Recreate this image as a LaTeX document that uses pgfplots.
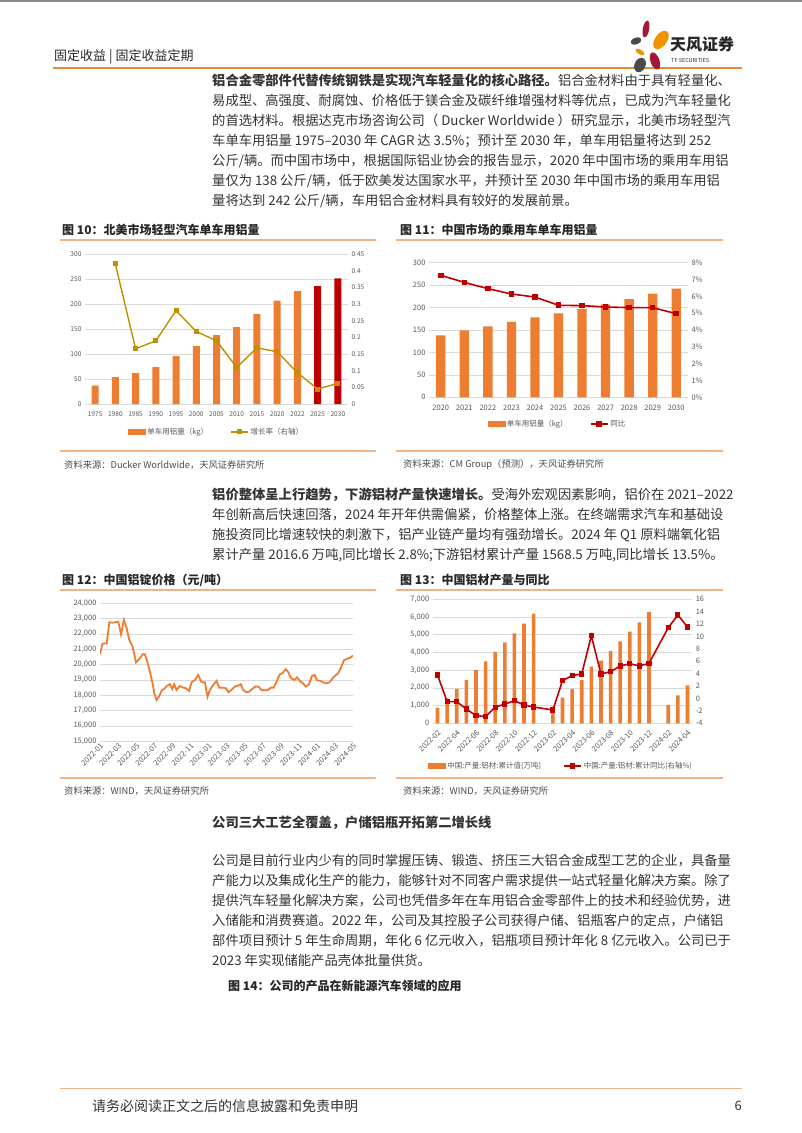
\documentclass[border=0pt]{standalone}
\usepackage{fontspec}
\setmainfont{Noto Sans CJK SC}
\usepackage{pgfplots}
\pgfplotsset{compat=1.18}
\definecolor{bar}{HTML}{ED7D31}
\definecolor{dred}{HTML}{C00000}
\definecolor{gold}{HTML}{BF9000}
\definecolor{gridc}{HTML}{D9D9D9}
\definecolor{tickc}{HTML}{595959}
\definecolor{txt}{HTML}{333333}
\definecolor{rulec}{HTML}{F4B183}
\definecolor{hrule}{HTML}{EA8A35}
\definecolor{tfred}{HTML}{A5173A}
\definecolor{tforange}{HTML}{F39200}
\definecolor{tfgrey}{HTML}{4A4A4A}
\XeTeXlinebreaklocale "zh"
\XeTeXlinebreakskip=0pt plus 2pt
\newcommand\bodyf{\fontsize{13.3}{16}\selectfont}
\newcommand\tickf{\fontsize{7.5}{9}\selectfont}
\newcommand\tickff{\fontsize{6.6}{8}\selectfont}
\pgfplotsset{
  every axis/.append style={
    /pgf/number format/assume math mode=true,
    scale only axis,
    scaled y ticks=false,
    ticklabel style={font=\tickf, text=tickc},
    tick style={draw=none},
    axis line style={-},
  },
  lg/.style={legend style={at={#1}, anchor=center, legend columns=2, draw=none, fill=none,
     font=\tickf, text=tickc, /tikz/every even column/.append style={column sep=20pt}}},
}
\tikzset{
  J/.style={anchor=base west, inner sep=0pt, text width=533pt, align=justify, font=\bodyf, text=txt},
  JL/.style={anchor=base west, inner sep=0pt, font=\bodyf, text=txt},
  T/.style={anchor=west, inner sep=0pt, font=\fontsize{12}{14}\selectfont\bfseries, text=black!85},
  S/.style={anchor=west, inner sep=0pt, font=\fontsize{9.3}{11}\selectfont, text=black!70},
}
\newcommand\barlegend{\addlegendimage{legend image code/.code={\fill[bar] (0pt,-2.5pt) rectangle (17pt,2.5pt);}}}
\begin{document}
\begin{tikzpicture}
\useasboundingbox (0,0) rectangle (802pt,-1133pt);
\fill[white] (0,0) rectangle (802pt,-1133pt);
\fill[black!45] (0,0) rectangle (802pt,-1.5pt);
% header
\node[anchor=west, inner sep=0pt, font=\fontsize{13}{15}\selectfont, text=black!85] at (54pt,-57pt) {固定收益 | 固定收益定期};
\draw[hrule, line width=1.6pt] (53pt,-68pt) -- (742pt,-68pt);
% logo
\fill[tfred, rotate around={-10:(646pt,-29pt)}] (646pt,-29pt) ellipse (3.2pt and 8.5pt);
\fill[tforange, rotate around={-35:(661pt,-40pt)}] (661pt,-40pt) ellipse (6pt and 10.5pt);
\fill[tfgrey, rotate around={20:(636pt,-41pt)}] (636pt,-41pt) ellipse (5.5pt and 3.5pt);
\fill[tforange, rotate around={60:(640pt,-52pt)}] (640pt,-52pt) ellipse (2.5pt and 5pt);
\fill[tfred, rotate around={20:(655pt,-61pt)}] (655pt,-61pt) ellipse (4.5pt and 9pt);
\fill[tfgrey, rotate around={-25:(640pt,-65pt)}] (640pt,-65pt) ellipse (5.5pt and 7.5pt);
\node[anchor=west, inner sep=0pt, font=\fontsize{16}{18}\selectfont\bfseries, text=black!85] at (670pt,-44pt) {天风证券};
\node[anchor=west, inner sep=0pt, font=\fontsize{5.5}{6}\selectfont, text=black!80] at (671pt,-60pt) {TF SECURITIES};
% paragraph 1
\node[J] at (212pt,-85pt) {\parfillskip=0pt \textbf{铝合金零部件代替传统钢铁是实现汽车轻量化的核心路径。}铝合金材料由于具有轻量化、};
\node[J] at (212pt,-105pt) {\parfillskip=0pt 易成型、高强度、耐腐蚀、价格低于镁合金及碳纤维增强材料等优点，已成为汽车轻量化};
\node[J] at (212pt,-125pt) {\parfillskip=0pt 的首选材料。根据达克市场咨询公司（ Ducker Worldwide ）研究显示，北美市场轻型汽};
\node[J] at (212pt,-145pt) {\parfillskip=0pt 车单车用铝量 1975–2030 年 CAGR 达 3.5\%；预计至 2030 年，单车用铝量将达到 252};
\node[J] at (212pt,-165pt) {\parfillskip=0pt 公斤/辆。而中国市场中，根据国际铝业协会的报告显示，2020 年中国市场的乘用车用铝};
\node[J] at (212pt,-185pt) {\parfillskip=0pt 量仅为 138 公斤/辆，低于欧美发达国家水平，并预计至 2030 年中国市场的乘用车用铝};
\node[JL] at (212pt,-205pt) {量将达到 242 公斤/辆，车用铝合金材料具有较好的发展前景。};
% chart titles row 1
\node[T] at (62pt,-230pt) {图 10：北美市场轻型汽车单车用铝量};
\node[T] at (400pt,-230pt) {图 11：中国市场的乘用车单车用铝量};
\draw[rulec, line width=1.5pt] (60pt,-240pt) -- (376pt,-240pt);
\draw[rulec, line width=1.5pt] (396pt,-240pt) -- (723pt,-240pt);
\draw[rulec, line width=1.5pt] (60pt,-451pt) -- (376pt,-451pt);
\draw[rulec, line width=1.5pt] (396pt,-451pt) -- (723pt,-451pt);
\node[S] at (64pt,-465pt) {资料来源：Ducker Worldwide，天风证券研究所};
\node[S] at (403pt,-465pt) {资料来源：CM Group（预测），天风证券研究所};
% chart 10
\begin{axis}[at={(85pt,-404pt)}, anchor=south west, width=263pt, height=149.7pt,
  ticklabel style={font=\tickff},
  xmin=-0.5, xmax=12.5, ymin=0, ymax=300, ytick={0,50,100,150,200,250,300},
  xtick={0,...,12}, xticklabels={1975,1980,1985,1990,1995,2000,2005,2010,2015,2020,2022,2025,2030},
  ymajorgrids, grid style={gridc, line width=0.5pt},
  axis x line*=bottom, axis y line*=left, x axis line style={gridc, line width=0.6pt}, y axis line style={draw=none},
  ybar, bar width=7pt]
\addplot[fill=bar, draw=none, bar shift=0pt] coordinates {(0,37)(1,54)(2,62)(3,74)(4,96)(5,116)(6,138)(7,154)(8,180)(9,207)(10,226)};
\addplot[fill=dred, draw=none, bar shift=0pt] coordinates {(11,236)(12,252)};
\end{axis}
\begin{axis}[at={(85pt,-404pt)}, anchor=south west, width=263pt, height=149.7pt,
  ticklabel style={font=\tickff},
  xmin=-0.5, xmax=12.5, ymin=0, ymax=0.45, ytick={0,0.05,0.1,0.15,0.2,0.25,0.3,0.35,0.4,0.45},
  yticklabels={0,0.05,0.1,0.15,0.2,0.25,0.3,0.35,0.4,0.45},
  axis x line=none, axis y line*=right, y axis line style={draw=none}, lg={(0.5,-0.187)}]
\barlegend\addlegendentry{单车用铝量（kg）}
\addplot[gold, line width=1.4pt, mark=square*, mark size=1.8pt] coordinates {(1,0.421)(2,0.166)(3,0.190)(4,0.281)(5,0.218)(6,0.190)(7,0.110)(8,0.169)(9,0.157)(10,0.094)(11,0.045)(12,0.062)};
\addlegendentry{增长率（右轴）}
\end{axis}
% chart 11
\begin{axis}[at={(429pt,-397.3pt)}, anchor=south west, width=259pt, height=134.6pt,
  xmin=-0.5, xmax=10.5, ymin=0, ymax=300, ytick={0,50,100,150,200,250,300},
  xtick={0,...,10}, xticklabels={2020,2021,2022,2023,2024,2025,2026,2027,2028,2029,2030},
  ymajorgrids, grid style={gridc, line width=0.5pt},
  axis x line*=bottom, axis y line*=left, x axis line style={gridc, line width=0.6pt}, y axis line style={draw=none},
  ybar, bar width=9.3pt]
\addplot[fill=bar, draw=none, bar shift=0pt] coordinates {(0,138)(1,149)(2,158)(3,168)(4,178)(5,187)(6,197)(7,207)(8,219)(9,231)(10,242)};
\end{axis}
\begin{axis}[at={(429pt,-397.3pt)}, anchor=south west, width=259pt, height=134.6pt,
  xmin=-0.5, xmax=10.5, ymin=0, ymax=8, ytick={0,...,8}, yticklabel={\pgfmathprintnumber{\tick}\%},
  axis x line=none, axis y line*=right, y axis line style={draw=none}, lg={(0.496,-0.198)}]
\barlegend\addlegendentry{单车用铝量（kg）}
\addplot[dred, line width=1.6pt, mark=square*, mark size=2pt] coordinates {(0,7.25)(1,6.83)(2,6.46)(3,6.14)(4,5.96)(5,5.47)(6,5.45)(7,5.37)(8,5.33)(9,5.33)(10,4.97)};
\addlegendentry{同比}
\end{axis}
% paragraph 2
\node[J] at (212pt,-499pt) {\parfillskip=0pt \textbf{铝价整体呈上行趋势，下游铝材产量快速增长。}受海外宏观因素影响，铝价在 2021–2022};
\node[J] at (212pt,-519pt) {\parfillskip=0pt 年创新高后快速回落，2024 年开年供需偏紧，价格整体上涨。在终端需求汽车和基础设};
\node[J] at (212pt,-539pt) {\parfillskip=0pt 施投资同比增速较快的刺激下，铝产业链产量均有强劲增长。2024 年 Q1 原料端氧化铝};
\node[J] at (212pt,-559pt) {\parfillskip=0pt 累计产量 2016.6 万吨,同比增长 2.8\%;下游铝材累计产量 1568.5 万吨,同比增长 13.5\%。};
% chart titles row 2
\node[T] at (62pt,-580pt) {图 12：中国铝锭价格（元/吨）};
\node[T] at (400pt,-580pt) {图 13：中国铝材产量与同比};
\draw[rulec, line width=1.5pt] (60pt,-590pt) -- (376pt,-590pt);
\draw[rulec, line width=1.5pt] (396pt,-590pt) -- (723pt,-590pt);
\draw[rulec, line width=1.5pt] (60pt,-778pt) -- (376pt,-778pt);
\draw[rulec, line width=1.5pt] (396pt,-778pt) -- (723pt,-778pt);
\node[S] at (64pt,-791pt) {资料来源：WIND，天风证券研究所};
\node[S] at (403pt,-791pt) {资料来源：WIND，天风证券研究所};
% chart 12
\begin{axis}[at={(100pt,-741.3pt)}, anchor=south west, width=253pt, height=138pt,
  xmin=0, xmax=28, ymin=15000, ymax=24000, ytick={15000,16000,...,24000},
  yticklabels={{15,000},{16,000},{17,000},{18,000},{19,000},{20,000},{21,000},{22,000},{23,000},{24,000}},
  xtick={0,2,...,28}, xticklabels={2022-01,2022-03,2022-05,2022-07,2022-09,2022-11,2023-01,2023-03,2023-05,2023-07,2023-09,2023-11,2024-01,2024-03,2024-05},
  xticklabel style={rotate=45, anchor=north east, inner sep=1pt},
  ymajorgrids, grid style={gridc, line width=0.5pt},
  axis x line*=bottom, axis y line*=left, x axis line style={gridc, line width=0.6pt}, y axis line style={draw=none}]
\addplot[bar, line width=1.8pt] coordinates {(0,20670)(0.26,21350)(0.48,21390)(0.74,21370)(1.03,22760)(1.36,22740)(1.66,22760)(2.03,22800)(2.32,21980)(2.65,22910)(2.95,22370)(3.24,21610)(3.61,21170)(3.98,20150)(4.35,20370)(4.72,20670)(4.97,20670)(5.23,20200)(5.53,19540)(5.82,18780)(6.01,18130)(6.26,17700)(6.56,17960)(6.82,18300)(7.18,18460)(7.44,18630)(7.74,18720)(8.0,18410)(8.22,18720)(8.47,18350)(8.84,18610)(9.21,18500)(9.51,18460)(9.87,18280)(10.13,18850)(10.5,19000)(10.87,19330)(11.24,18850)(11.61,18850)(11.9,17910)(12.16,18350)(12.53,18670)(12.9,18940)(13.19,18500)(13.56,18500)(13.93,18460)(14.22,18200)(14.55,18350)(14.92,18570)(15.29,18630)(15.59,18720)(15.84,18350)(16.21,18200)(16.51,18240)(16.84,18410)(17.24,18590)(17.58,18540)(17.87,18350)(18.24,18330)(18.61,18350)(18.9,18500)(19.23,18500)(19.53,18890)(19.9,19370)(20.19,19440)(20.56,19700)(20.85,19500)(21.15,19110)(21.52,19000)(21.81,19170)(22.11,18940)(22.48,18780)(22.77,18570)(23.14,18720)(23.43,19240)(23.77,19330)(24.02,18980)(24.39,18940)(24.69,18850)(25.06,18780)(25.35,18830)(25.61,19000)(25.9,19220)(26.35,19440)(26.64,19760)(27.01,20300)(27.34,20370)(27.71,20460)(28,20590)};
\end{axis}
% chart 13
\begin{axis}[at={(432.7pt,-723.3pt)}, anchor=south west, width=259.6pt, height=124pt,
  xmin=-0.5, xmax=26.5, ymin=0, ymax=7000, ytick={0,1000,...,7000},
  yticklabels={0,{1,000},{2,000},{3,000},{4,000},{5,000},{6,000},{7,000}},
  xtick={0,2,...,26}, xticklabels={2022-02,2022-04,2022-06,2022-08,2022-10,2022-12,2023-02,2023-04,2023-06,2023-08,2023-10,2023-12,2024-02,2024-04},
  xticklabel style={rotate=45, anchor=north east, inner sep=1pt},
  ymajorgrids, grid style={gridc, line width=0.5pt},
  axis x line*=bottom, axis y line*=left, x axis line style={gridc, line width=0.6pt}, y axis line style={draw=none},
  ybar, bar width=3.6pt]
\addplot[fill=bar, draw=none, bar shift=0pt] coordinates {(0,880)(1,1400)(2,1940)(3,2450)(4,3010)(5,3500)(6,4030)(7,4570)(8,5080)(9,5630)(10,6190)(12,940)(13,1450)(14,1940)(15,2450)(16,3200)(17,3540)(18,4070)(19,4630)(20,5180)(21,5700)(22,6270)(24,1035)(25,1580)(26,2145)};
\end{axis}
\begin{axis}[at={(432.7pt,-723.3pt)}, anchor=south west, width=259.6pt, height=124pt,
  xmin=-0.5, xmax=26.5, ymin=-4, ymax=16, ytick={-4,-2,...,16},
  axis x line=none, axis y line*=right, y axis line style={draw=none}, lg={(0.494,-0.344)}]
\barlegend\addlegendentry{中国:产量:铝材:累计值(万吨)}
\addplot[dred, line width=1.6pt, mark=square*, mark size=1.8pt] coordinates {(0,3.8)(1,-0.5)(2,-0.5)(3,-1.7)(4,-2.76)(5,-2.9)(6,-1.4)(7,-0.9)(8,-0.35)(9,-1.05)(10,-1.37)(12,-1.85)(13,2.88)(14,3.69)(15,3.96)(16,10.14)(17,3.96)(18,4.33)(19,5.25)(20,5.62)(21,5.25)(22,5.68)(24,11.43)(25,13.47)(26,11.54)};
\addlegendentry{中国:产量:铝材:累计同比(右轴\%)}
\end{axis}
% paragraph 3
\node[JL, font=\bodyf\bfseries] at (212pt,-827pt) {公司三大工艺全覆盖，户储铝瓶开拓第二增长线};
\node[J] at (212pt,-865pt) {\parfillskip=0pt 公司是目前行业内少有的同时掌握压铸、锻造、挤压三大铝合金成型工艺的企业，具备量};
\node[J] at (212pt,-885pt) {\parfillskip=0pt 产能力以及集成化生产的能力，能够针对不同客户需求提供一站式轻量化解决方案。除了};
\node[J] at (212pt,-905pt) {\parfillskip=0pt 提供汽车轻量化解决方案，公司也凭借多年在车用铝合金零部件上的技术和经验优势，进};
\node[J] at (212pt,-925pt) {\parfillskip=0pt 入储能和消费赛道。2022 年，公司及其控股子公司获得户储、铝瓶客户的定点，户储铝};
\node[J] at (212pt,-945pt) {\parfillskip=0pt 部件项目预计 5 年生命周期，年化 6 亿元收入，铝瓶项目预计年化 8 亿元收入。公司已于};
\node[JL] at (212pt,-965pt) {2023 年实现储能产品壳体批量供货。};
\node[T] at (228pt,-986pt) {图 14：公司的产品在新能源汽车领域的应用};
% footer
\draw[rulec, line width=1pt] (60pt,-1088pt) -- (742pt,-1088pt);
\node[anchor=west, inner sep=0pt, font=\fontsize{14}{16}\selectfont, text=black!80] at (92pt,-1106pt) {请务必阅读正文之后的信息披露和免责申明};
\node[anchor=east, inner sep=0pt, font=\fontsize{13}{15}\selectfont, text=black!80] at (742pt,-1106pt) {6};
\end{tikzpicture}
\end{document}
